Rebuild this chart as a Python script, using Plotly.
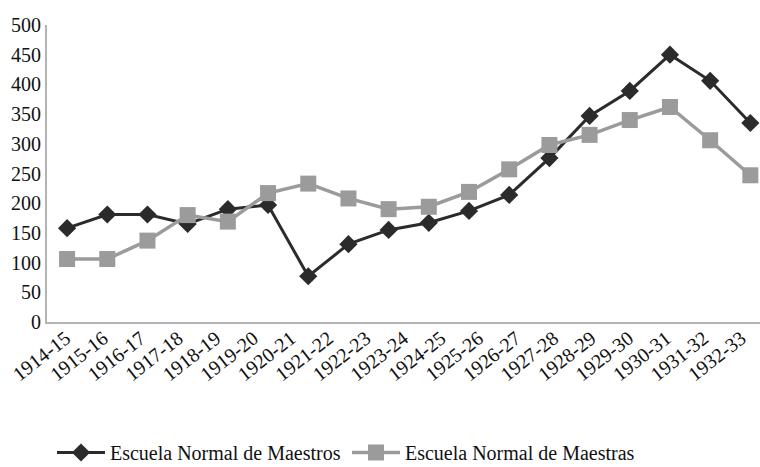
import plotly.graph_objects as go

# School years shown on the category axis
years = ["1914-15", "1915-16", "1916-17", "1917-18", "1918-19", "1919-20",
         "1920-21", "1921-22", "1922-23", "1923-24", "1924-25", "1925-26",
         "1926-27", "1927-28", "1928-29", "1929-30", "1930-31", "1931-32",
         "1932-33"]

# Enrolment per school
maestros = [158, 181, 181, 165, 190, 197, 77, 131, 155, 167, 187, 214,
            276, 347, 389, 450, 406, 335]
maestras = [106, 106, 137, 180, 169, 217, 233, 208, 190, 194, 219, 257,
            298, 315, 340, 362, 306, 247]

y_ticks = [0, 50, 100, 150, 200, 250, 300, 350, 400, 450, 500]

FONT = "Liberation Serif, Times New Roman, serif"
DARK = "#2b2b2b"
GREY = "#9b9b9b"
AXIS = "#b4b4b4"

idx = list(range(len(maestros)))

fig = go.Figure()
fig.add_trace(go.Scatter(
    x=idx, y=maestros, name="Escuela Normal de Maestros",
    mode="lines+markers",
    line=dict(color=DARK, width=3),
    marker=dict(symbol="diamond", size=14, color=DARK),
    cliponaxis=False,
))
fig.add_trace(go.Scatter(
    x=idx, y=maestras, name="Escuela Normal de Maestras",
    mode="lines+markers",
    line=dict(color=GREY, width=3.5),
    marker=dict(symbol="square", size=16, color=GREY),
    cliponaxis=False,
))

fig.update_layout(
    width=760, height=467,
    margin=dict(l=47, r=0, t=25, b=145, autoexpand=False),
    paper_bgcolor="white", plot_bgcolor="white",
    font=dict(family=FONT, size=20, color="#111111"),
    showlegend=True,
    legend=dict(orientation="h", x=0.007, y=-0.505, xanchor="left",
                yanchor="bottom", font=dict(size=20, family=FONT),
                itemwidth=48, entrywidth=232, tracegroupgap=0,
                bgcolor="rgba(0,0,0,0)"),
    xaxis=dict(
        range=[-0.5, 17.24], showticklabels=False, showgrid=False,
        zeroline=False, showline=True, linecolor=AXIS, linewidth=2,
        ticks="", automargin=False,
    ),
    xaxis2=dict(
        overlaying="x", anchor="y", side="bottom",
        range=[-0.5, len(years) - 0.5],
        tickmode="array", tickvals=list(range(len(years))), ticktext=years,
        tickangle=-38, showgrid=False, zeroline=False, showline=False,
        ticks="", tickfont=dict(size=20, family=FONT, color="#111111"),
        automargin=False,
    ),
    yaxis=dict(
        range=[0, 500], tickmode="array", tickvals=y_ticks,
        showgrid=False, zeroline=False, showline=True, linecolor=AXIS,
        linewidth=2, ticks="", ticklen=0, automargin=False,
        tickfont=dict(size=20, family=FONT, color="#111111"),
    ),
)

# An empty trace on the second x axis so it is drawn
fig.add_trace(go.Scatter(x=[], y=[], xaxis="x2", showlegend=False,
                         hoverinfo="skip"))

fig.write_html("out.html")
